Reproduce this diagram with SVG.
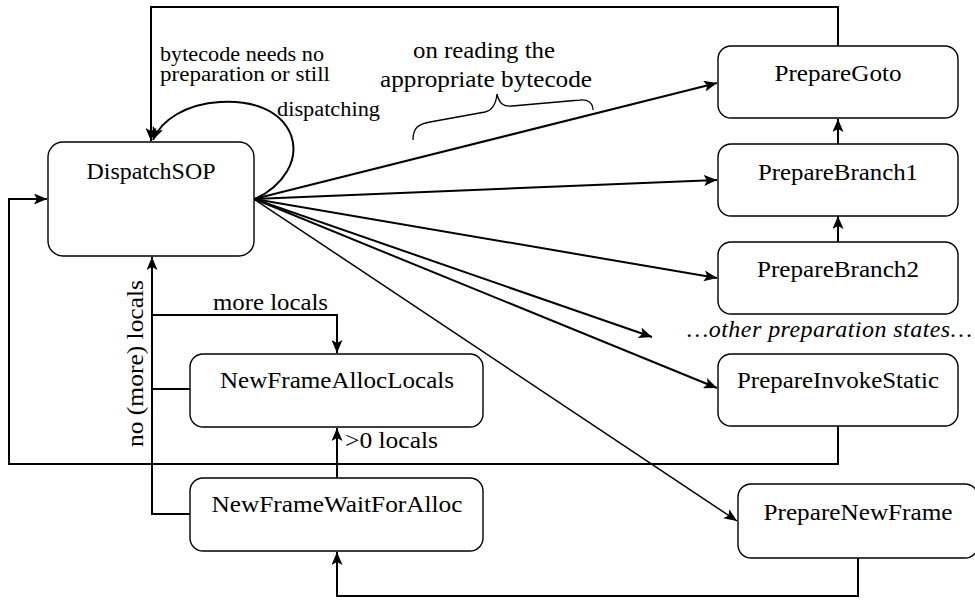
<svg xmlns="http://www.w3.org/2000/svg" width="975" height="602" viewBox="0 0 975 602" font-family="Liberation Serif, Times New Roman, serif">
<style>
  .node rect { fill: #fff; stroke: #000; stroke-width: 1.4; }
  .node text { font-size: 24px; fill: #000; text-anchor: middle; }
  .lbl { fill: #000; }
  .edge { fill: none; stroke: #000; stroke-width: 2; }
  .thin { stroke-width: 1.5; }
</style>
<defs>
  <marker id="ah" viewBox="0 0 13 11" refX="13" refY="5.5" markerWidth="13" markerHeight="11" orient="auto" markerUnits="userSpaceOnUse">
    <path d="M0,0 L13,5.5 L0,11 L3,5.5 z" fill="#000"/>
  </marker>
</defs>
<rect width="975" height="602" fill="#fff"/>

<g id="connectors">
  <path class="edge" d="M838,46 V7 H151 V141" marker-end="url(#ah)"/>
  <path class="edge" d="M255,199 C283,186 300,160 291,135 C281,110 252,100 220,102 C186,104 161,120 153,140" marker-end="url(#ah)"/>
  <path class="edge" d="M838,426 V464 H9 V199 H47" marker-end="url(#ah)"/>
  <path class="edge" d="M254,199 L717,83" marker-end="url(#ah)"/>
  <path class="edge" d="M254,199 L717,180" marker-end="url(#ah)"/>
  <path class="edge" d="M254,199 L717,278" marker-end="url(#ah)"/>
  <path class="edge" d="M254,199 L652,337" marker-end="url(#ah)"/>
  <path class="edge" d="M254,199 L717,388" marker-end="url(#ah)"/>
  <path class="edge thin" d="M254,199 L737,521" marker-end="url(#ah)"/>
  <path class="edge" d="M838,144 V119" marker-end="url(#ah)"/>
  <path class="edge" d="M838,242 V216" marker-end="url(#ah)"/>
  <path class="edge" d="M858,558 V596 H337 V552" marker-end="url(#ah)"/>
  <path class="edge" d="M337,478 V428" marker-end="url(#ah)"/>
  <path class="edge" d="M190,389 H152 V315 H337 V353" marker-end="url(#ah)"/>
  <path class="edge" d="M190,514 H152 V257" marker-end="url(#ah)"/>
  <path d="M413,140 C413,128 418,124 430,122 L485,112 C493,110 496,104 497,94 C499,103 503,107 512,106 L580,100 C588,99 593,103 593,110" fill="none" stroke="#000" stroke-width="1.3"/>
</g>

<g id="labels">
  <text class="lbl" font-size="20" x="160" y="61" textLength="164" lengthAdjust="spacingAndGlyphs">bytecode needs no</text>
  <text class="lbl" font-size="20" x="160" y="81" textLength="170" lengthAdjust="spacingAndGlyphs">preparation or still</text>
  <text class="lbl" font-size="20" x="277" y="116" textLength="103" lengthAdjust="spacingAndGlyphs">dispatching</text>
  <text class="lbl" font-size="23" x="413" y="58" textLength="142" lengthAdjust="spacingAndGlyphs">on reading the</text>
  <text class="lbl" font-size="23" x="380" y="87" textLength="212" lengthAdjust="spacingAndGlyphs">appropriate bytecode</text>
  <text class="lbl" font-size="23" x="213" y="310" textLength="115" lengthAdjust="spacingAndGlyphs">more locals</text>
  <text class="lbl" font-size="23" x="345" y="448" textLength="93" lengthAdjust="spacingAndGlyphs">&gt;0 locals</text>
  <text class="lbl" font-size="23" transform="translate(143,447) rotate(-90)" textLength="167" lengthAdjust="spacingAndGlyphs">no (more) locals</text>
  <text class="lbl" font-size="24" font-style="italic" x="687" y="337" textLength="285" lengthAdjust="spacing">…other preparation states…</text>
</g>

<g id="DispatchSOP" class="node"><rect x="48" y="142" width="206" height="114" rx="15"/><text x="151" y="179" textLength="129" lengthAdjust="spacingAndGlyphs">DispatchSOP</text></g>
<g id="PrepareGoto" class="node"><rect x="718" y="46" width="240" height="72" rx="13"/><text x="838" y="81" textLength="127" lengthAdjust="spacingAndGlyphs">PrepareGoto</text></g>
<g id="PrepareBranch1" class="node"><rect x="718" y="144" width="240" height="72" rx="13"/><text x="838" y="180" textLength="160" lengthAdjust="spacingAndGlyphs">PrepareBranch1</text></g>
<g id="PrepareBranch2" class="node"><rect x="718" y="242" width="240" height="72" rx="13"/><text x="838" y="277" textLength="162" lengthAdjust="spacingAndGlyphs">PrepareBranch2</text></g>
<g id="PrepareInvokeStatic" class="node"><rect x="718" y="354" width="240" height="72" rx="13"/><text x="838" y="388" textLength="202" lengthAdjust="spacingAndGlyphs">PrepareInvokeStatic</text></g>
<g id="PrepareNewFrame" class="node"><rect x="738" y="484" width="240" height="74" rx="13"/><text x="858" y="520" textLength="189" lengthAdjust="spacingAndGlyphs">PrepareNewFrame</text></g>
<g id="NewFrameAllocLocals" class="node"><rect x="190" y="354" width="293" height="73" rx="13"/><text x="337" y="388" textLength="234" lengthAdjust="spacingAndGlyphs">NewFrameAllocLocals</text></g>
<g id="NewFrameWaitForAlloc" class="node"><rect x="190" y="478" width="293" height="73" rx="13"/><text x="337" y="512" textLength="251" lengthAdjust="spacingAndGlyphs">NewFrameWaitForAlloc</text></g>
</svg>
